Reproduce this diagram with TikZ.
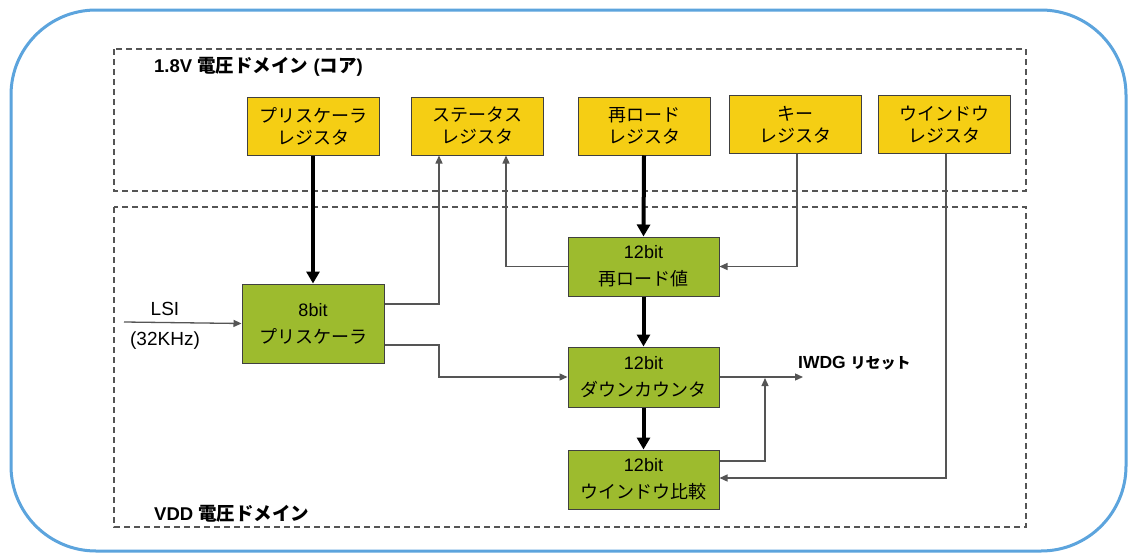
\documentclass[tikz,border=0pt]{standalone}
\usepackage{fontspec}
\setmainfont{Liberation Sans}
\newfontfamily\jp{Noto Sans CJK JP}
\usetikzlibrary{arrows.meta,calc}
\definecolor{regyellow}{HTML}{F5CE14}
\definecolor{blkgreen}{HTML}{9DBB2E}
\definecolor{outerblue}{HTML}{5CA4DD}
\definecolor{lgray}{HTML}{555555}
\begin{document}
\begin{tikzpicture}[x=1pt,y=-1pt,
  ybox/.style={draw=black!75, fill=regyellow, line width=1pt, minimum width=132pt, minimum height=58pt, inner sep=0pt, align=center, font=\fontsize{18}{22}\selectfont\jp},
  gbox/.style={draw=black!75, fill=blkgreen, line width=1pt, minimum width=151pt, minimum height=59pt, inner sep=0pt, align=center, font=\fontsize{18}{27}\selectfont},
  domainbox/.style={draw=lgray, line width=1.2pt, dash pattern=on 6pt off 4pt},
  sig/.style={draw=lgray, line width=1.3pt, -{Triangle[length=8pt,width=7pt]}},
  bus/.style={draw=black, line width=4pt, -{Triangle[length=12pt,width=13pt]}},
  lbl/.style={inner sep=0pt, font=\fontsize{18}{22}\selectfont}
]
\useasboundingbox (0,0) rectangle (1130,554);
\fill[white] (0,0) rectangle (1130,554);
\draw[outerblue, line width=3pt, rounded corners=85pt] (11,10) rectangle (1126,551);
\draw[domainbox] (114,49) rectangle (1026,191);
\draw[domainbox] (114,207) rectangle (1026,527);

\node[lbl, anchor=west, font=\fontsize{18.5}{22}\selectfont\bfseries] (t1) at (154,67) {1.8V {\jp 電圧ドメイン} ({\jp コア})};
\node[lbl, anchor=west, font=\fontsize{18.5}{22}\selectfont\bfseries] (t2) at (154,514) {VDD {\jp 電圧ドメイン}};

\node[ybox] (preg) at (313,126) {プリスケーラ\\レジスタ};
\node[ybox] (sreg) at (477.5,126) {ステータス\\レジスタ};
\node[ybox] (rreg) at (644,126) {再ロード\\レジスタ};
\node[ybox] (kreg) at (795,124.5) {キー\\レジスタ};
\node[ybox] (wreg) at (944,124.5) {ウインドウ\\レジスタ};

\node[gbox, minimum width=142pt, minimum height=79pt] (pre) at (313,323.5) {8bit\\{\jp プリスケーラ}};
\node[gbox] (rval) at (643.5,266.5) {12bit\\{\jp 再ロード値}};
\node[gbox, minimum height=60pt] (cnt) at (643.5,377) {12bit\\{\jp ダウンカウンタ}};
\node[gbox] (win) at (643.5,479.5) {12bit\\{\jp ウインドウ比較}};

\node[lbl, font=\fontsize{19}{22}\selectfont] (lsi) at (165,309) {LSI};
\node[lbl, font=\fontsize{19}{22}\selectfont] (khz) at (165,341) {(32KHz)};
\coordinate (lsiin) at (124,322);
\node[lbl, anchor=west, font=\fontsize{17.5}{20}\selectfont\bfseries] (rst) at (798,363) {IWDG {\jp\fontsize{15}{18}\selectfont リセット}};
\coordinate (rstin) at (803,377);
\coordinate (j1) at (439,304);
\coordinate (j2) at (439,377);
\coordinate (j3) at (765,461);

% thick buses
\draw[bus] (preg.south) -- (pre.north);
\draw[bus] (rreg.south) -- (rval.north);
\draw[bus] (rval.south) -- (cnt.north);
\draw[bus] (cnt.south) -- (win.north);

% thin signals
\draw[sig] (lsiin) -- (pre.west);
\draw[sig] (pre.east |- j1) -| ([xshift=-38.5pt]sreg.south);
\draw[sig] (rval.west) -| ([xshift=28.5pt]sreg.south);
\draw[sig] ([xshift=2pt]kreg.south) |- (rval.east);
\draw[sig] ([xshift=2pt]wreg.south) |- ([yshift=1.5pt]win.east);
\draw[sig] (pre.east |- 0,345) -| (j2) -- (cnt.west);
\draw[sig] (cnt.east) -- (rstin);
\draw[sig] (win.east |- j3) -| (765,378);
\end{tikzpicture}
\end{document}
